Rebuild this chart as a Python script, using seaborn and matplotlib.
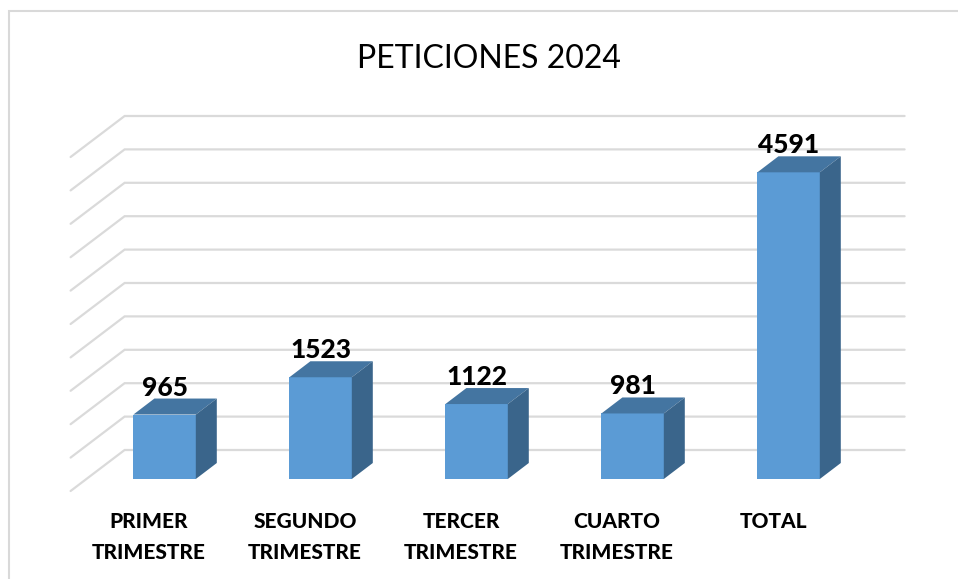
import matplotlib
matplotlib.use("Agg")
import matplotlib.pyplot as plt
import pandas as pd
import seaborn as sns
from matplotlib.lines import Line2D
from matplotlib.patches import Polygon
from matplotlib.transforms import Affine2D, IdentityTransform

categories = ["PRIMER\nTRIMESTRE", "SEGUNDO\nTRIMESTRE", "TERCER\nTRIMESTRE", "CUARTO\nTRIMESTRE", "TOTAL"]
values = [965, 1523, 1122, 981, 4591]
grid_values = [0, 500, 1000, 1500, 2000, 2500, 3000, 3500, 4000, 4500, 5000]
title = "PETICIONES 2024"

sns.set_theme(style="white")
plt.rcParams["font.family"] = ["Lato", "DejaVu Sans"]

W, H, DPI = 958, 579, 100
fig = plt.figure(figsize=(W / DPI, H / DPI), dpi=DPI, facecolor="white")
ax = fig.add_axes([86.6 / W, 1 - 479 / H, 780 / W, 334 / H])

df = pd.DataFrame({"cat": categories, "val": values})
sns.barplot(data=df, x="cat", y="val", ax=ax, color="#5B9BD5", saturation=1, width=0.4,
            zorder=3, linewidth=0, edgecolor="none")
ax.set_xlim(-0.5, 4.5)
ax.set_ylim(0, 5000)
ax.set_xlabel("")
ax.set_ylabel("")
ax.set_yticks([])
sns.despine(ax=ax, left=True, bottom=True, top=True, right=True)
ax.patch.set_visible(False)

# pixel offsets of the pseudo-3D depth
BACK = (38, 29)
FRONT = (-16, -12)
BAR = (21, 16)
GRID = "#DADADA"
ident = IdentityTransform()

# gridlines: back wall + left wall
xl, xr = ax.get_xlim()
for v in grid_values:
    x0, y0 = ax.transData.transform((xl, v))
    x1, y1 = ax.transData.transform((xr, v))
    ax.add_line(Line2D(
        [x0 + FRONT[0], x0 + BACK[0], x1 + BACK[0]],
        [y0 + FRONT[1], y0 + BACK[1], y1 + BACK[1]],
        transform=ident, color=GRID, lw=1.6, zorder=1, clip_on=False,
        solid_joinstyle="miter"))

# depth faces of the bars, from the seaborn-drawn bars
for bar, val in zip(ax.patches, values):
    (xa, ya), (xb, yb) = ax.transData.transform(
        [(bar.get_x(), 0), (bar.get_x() + bar.get_width(), bar.get_height())])
    dx, dy = BAR
    ax.add_patch(Polygon([(xa, yb), (xb, yb), (xb + dx, yb + dy), (xa + dx, yb + dy)],
                         closed=True, transform=ident, facecolor="#4475A1",
                         edgecolor="none", zorder=4, clip_on=False))
    ax.add_patch(Polygon([(xb, ya), (xb + dx, ya + dy), (xb + dx, yb + dy), (xb, yb)],
                         closed=True, transform=ident, facecolor="#3A658B",
                         edgecolor="none", zorder=4, clip_on=False))
    ax.annotate(str(val), xy=(bar.get_x() + bar.get_width() / 2, val),
                xytext=(0, 19 * 72 / DPI), textcoords="offset points",
                ha="center", va="baseline", fontsize=19, fontweight="black",
                color="black", zorder=6, annotation_clip=False)

# category labels
ax.set_xticks(range(len(categories)))
ax.set_xticklabels(categories, fontsize=15, fontweight="black", color="black",
                   linespacing=1.7)
ax.tick_params(axis="x", length=0, pad=24)
shift = Affine2D().translate(-15.5, 0)
for lab in ax.get_xticklabels():
    lab.set_transform(lab.get_transform() + shift)

fig.suptitle(title, x=489 / W, y=1 - 68 / H, va="baseline", ha="center",
             fontsize=23, color="black")

# chart frame: only top and left edges are visible
fig.add_artist(Line2D([9 / W, 9 / W, 1], [0, 1 - 11 / H, 1 - 11 / H],
                      transform=fig.transFigure, color="#D9D9D9", lw=1.5,
                      solid_joinstyle="miter"))

fig.savefig("out.png", dpi=DPI, facecolor="white")
